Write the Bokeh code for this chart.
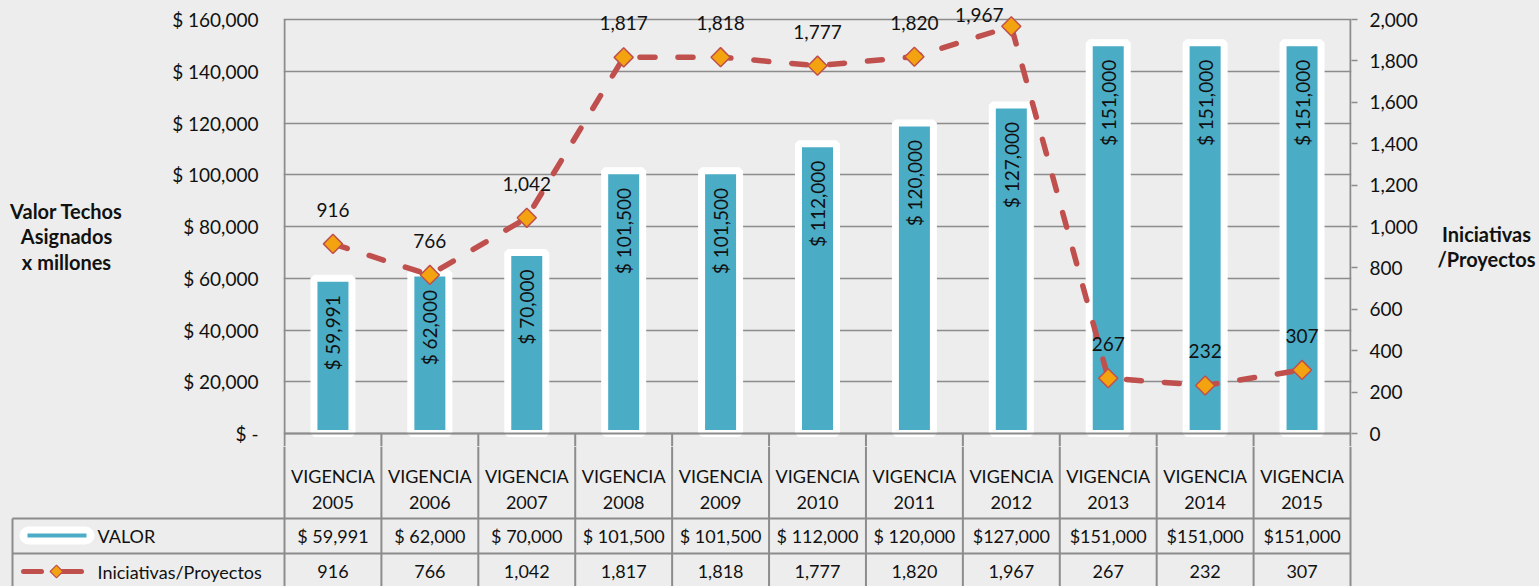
import numpy as np
from bokeh.plotting import figure
from bokeh.layouts import row, column
from bokeh.models import (Range1d, LinearAxis, FixedTicker, Grid,
                          NumeralTickFormatter, ColumnDataSource)
from bokeh.core.properties import value
from bokeh.embed import file_html
from bokeh.resources import INLINE

# ---------------- data ----------------
years = ["2005", "2006", "2007", "2008", "2009", "2010", "2011", "2012", "2013", "2014", "2015"]
header_word = "VIGENCIA"
valor = [59991, 62000, 70000, 101500, 101500, 112000, 120000, 127000, 151000, 151000, 151000]
iniciativas = [916, 766, 1042, 1817, 1818, 1777, 1820, 1967, 267, 232, 307]
left_ticks = [0, 20000, 40000, 60000, 80000, 100000, 120000, 140000, 160000]
right_ticks = [0, 200, 400, 600, 800, 1000, 1200, 1400, 1600, 1800, 2000]
series_names = ["VALOR", "Iniciativas/Proyectos"]
left_title = ["Valor Techos", "Asignados", "x millones"]
right_title = ["Iniciativas", "/Proyectos"]

# ---------------- styling ----------------
BG = "#ECEDEC"
GRID = "#8C8C8C"
TEAL = "#4BACC6"
RED = "#C0504D"
ORANGE = "#F2A30F"
INK = "#111111"
FONT = "Lato"
FS = "18px"
FS_AX = "19px"
FS_TITLE = "20px"

W, H = 1539, 586
SPLIT = 446                 # top row / data-table boundary (page px)
LW, RX = 150, 1425          # left title panel width, right title panel start
X0, X1 = 284, 1350          # plot area left/right (page px)
Y0, YTOP = 433, 19          # value 0 / value 160000 (page px)
PXX = (X1 - X0) / 11.0
PYY = (Y0 - YTOP) / 160000.0
PYR = (Y0 - YTOP) / 2000.0


def xd(px):
    return (px - X0) / PXX


def yd(py):
    return (Y0 - py) / PYY


def base_fig(width, height, x_range, y_range, **kw):
    f = figure(width=width, height=height, x_range=x_range, y_range=y_range,
               output_backend="svg", toolbar_location=None,
               x_axis_location=None, y_axis_location=None, min_border=0, **kw)
    f.background_fill_color = BG
    f.border_fill_color = BG
    f.outline_line_color = None
    for g in f.grid:
        g.visible = False
    return f


n = len(years)
xc = [i + 0.5 for i in range(n)]

# label offsets for the line series (keep labels inside the picture)
lab_dx, lab_dy = [], []
for v in iniciativas:
    py = Y0 - v * PYR
    if py - 34 < 14:
        lab_dx.append(-32)
        lab_dy.append(14 - py)
    else:
        lab_dx.append(0)
        lab_dy.append(-34)

src = ColumnDataSource(dict(
    x=xc, valor=valor, ini=iniciativas,
    bar_lab=[f"$ {v:,}" for v in valor],
    ini_lab=[f"{v:,}" for v in iniciativas],
    cell1=[("$ " if v < 127000 else "$") + f"{v:,}" for v in valor],
    head=[header_word] * n, yr=years, dx=lab_dx, dy=lab_dy,
))

# ================= main chart =================
p = base_fig(RX - LW, SPLIT, Range1d(xd(283), xd(1351)), Range1d(yd(SPLIT), yd(0)),
             min_border_left=283 - LW, min_border_right=RX - 1351)
p.extra_y_ranges = {"right": Range1d((Y0 - SPLIT) / PYR, Y0 / PYR)}

p.add_layout(Grid(dimension=1, ticker=FixedTicker(ticks=left_ticks),
                  grid_line_color=GRID, grid_line_width=1.5))

lax = LinearAxis(ticker=FixedTicker(ticks=left_ticks))
lax.major_label_overrides = {t: ("$ -" if t == 0 else f"$ {t:,}") for t in left_ticks}
lax.axis_line_color = None
lax.major_tick_line_color = None
lax.minor_tick_line_color = None
lax.major_tick_in = 0
lax.major_tick_out = 0
lax.major_label_standoff = 25
lax.major_label_text_font = FONT
lax.major_label_text_font_size = FS_AX
lax.major_label_text_color = INK
p.add_layout(lax, "left")

rax = LinearAxis(y_range_name="right", ticker=FixedTicker(ticks=right_ticks),
                 formatter=NumeralTickFormatter(format="0,0"))
rax.axis_line_color = None
rax.major_tick_line_color = GRID
rax.major_tick_line_width = 1.5
rax.minor_tick_line_color = None
rax.major_tick_in = 0
rax.major_tick_out = 6
rax.major_label_standoff = 12
rax.major_label_text_font = FONT
rax.major_label_text_font_size = FS_AX
rax.major_label_text_color = INK
p.add_layout(rax, "right")

p.vbar(x="x", top="valor", bottom=0, width=38 / PXX, source=src,
       fill_color=TEAL, line_color="white", line_width=7)
p.text(x="x", y="valor", text="bar_lab", source=src, angle=np.pi / 2,
       text_align="right", text_baseline="middle", y_offset=17,
       text_font=value(FONT), text_font_size=FS_AX, text_color=INK)

ybot = yd(SPLIT)
p.segment(x0=[float(i) for i in range(1, n)], y0=0, x1=[float(i) for i in range(1, n)], y1=ybot,
          line_color=GRID, line_width=2)
p.segment(x0=[0, 11, 0], y0=[160000, 160000, 0], x1=[0, 11, 11], y1=[ybot, ybot, 0],
          line_color=GRID, line_width=2)

p.line(x="x", y="ini", source=src, y_range_name="right", line_color=RED,
       line_width=5.5, line_dash="15 23", line_cap="round")
p.scatter(x="x", y="ini", source=src, y_range_name="right", marker="square",
          angle=np.pi / 4, size=13.5, fill_color=ORANGE, line_color=RED, line_width=1.5)
p.text(x="x", y="ini", text="ini_lab", source=src, y_range_name="right",
       text_align="center", text_baseline="middle", x_offset="dx", y_offset="dy",
       text_font=value(FONT), text_font_size=FS_AX, text_color=INK)

# ================= left title panel =================
pl = base_fig(LW, SPLIT, Range1d(0, LW), Range1d(SPLIT, 0))
pl.text(x=[66] * 3, y=[210, 235, 261], text=left_title, text_align="center",
        text_baseline="middle", text_font=value(FONT), text_font_size=FS_TITLE,
        text_font_style="bold", text_color=INK)

# ================= right title panel =================
pr = base_fig(W - RX, SPLIT, Range1d(RX, W), Range1d(SPLIT, 0))
pr.text(x=[1486] * 2, y=[233, 258], text=right_title, text_align="center",
        text_baseline="middle", text_font=value(FONT), text_font_size=FS_TITLE,
        text_font_style="bold", text_color=INK)

# ================= data table =================
pt = base_fig(W, H - SPLIT, Range1d(xd(0), xd(W)), Range1d(yd(H), yd(SPLIT)))
ytop, yb = yd(SPLIT), yd(H)
pt.segment(x0=[float(i) for i in range(0, n + 1)], y0=ytop,
           x1=[float(i) for i in range(0, n + 1)], y1=yb, line_color=GRID, line_width=2)
pt.segment(x0=[xd(12), xd(12), xd(12)], y0=[yd(518), yd(553), yd(518)],
           x1=[11, 11, xd(12)], y1=[yd(518), yd(553), yb], line_color=GRID, line_width=2)

pt.text(x="x", y=yd(475), text="head", source=src, text_align="center", text_baseline="middle",
        text_font=value(FONT), text_font_size=FS, text_color=INK)
pt.text(x="x", y=yd(502), text="yr", source=src, text_align="center", text_baseline="middle",
        text_font=value(FONT), text_font_size=FS, text_color=INK)
pt.text(x="x", y=yd(535), text="cell1", source=src, text_align="center", text_baseline="middle",
        text_font=value(FONT), text_font_size=FS, text_color=INK)
pt.text(x="x", y=yd(571), text="ini_lab", source=src, text_align="center", text_baseline="middle",
        text_font=value(FONT), text_font_size=FS, text_color=INK)

# legend keys
pt.segment(x0=[xd(28)], y0=[yd(535)], x1=[xd(85)], y1=[yd(535)],
           line_color="white", line_width=18, line_cap="round")
pt.segment(x0=[xd(27)], y0=[yd(535)], x1=[xd(86)], y1=[yd(535)],
           line_color=TEAL, line_width=4)
pt.segment(x0=[xd(23), xd(62)], y0=[yd(571)] * 2, x1=[xd(41), xd(81)], y1=[yd(571)] * 2,
           line_color=RED, line_width=5, line_cap="round")
pt.scatter(x=[xd(56)], y=[yd(571)], marker="square", angle=np.pi / 4, size=9,
           fill_color=ORANGE, line_color=RED, line_width=1.2)
pt.text(x=[xd(97)] * 2, y=[yd(535), yd(571)], text=series_names, text_align="left",
        text_baseline="middle", text_font=value(FONT), text_font_size=FS, text_color=INK)

layout = column(row(pl, p, pr, spacing=0), pt, spacing=0)

html = file_html(layout, INLINE, title="Techos asignados")
html = html.replace("</head>", "<style>body{background:#ECEDEC;}</style></head>", 1)
open("out.html", "w").write(html)
